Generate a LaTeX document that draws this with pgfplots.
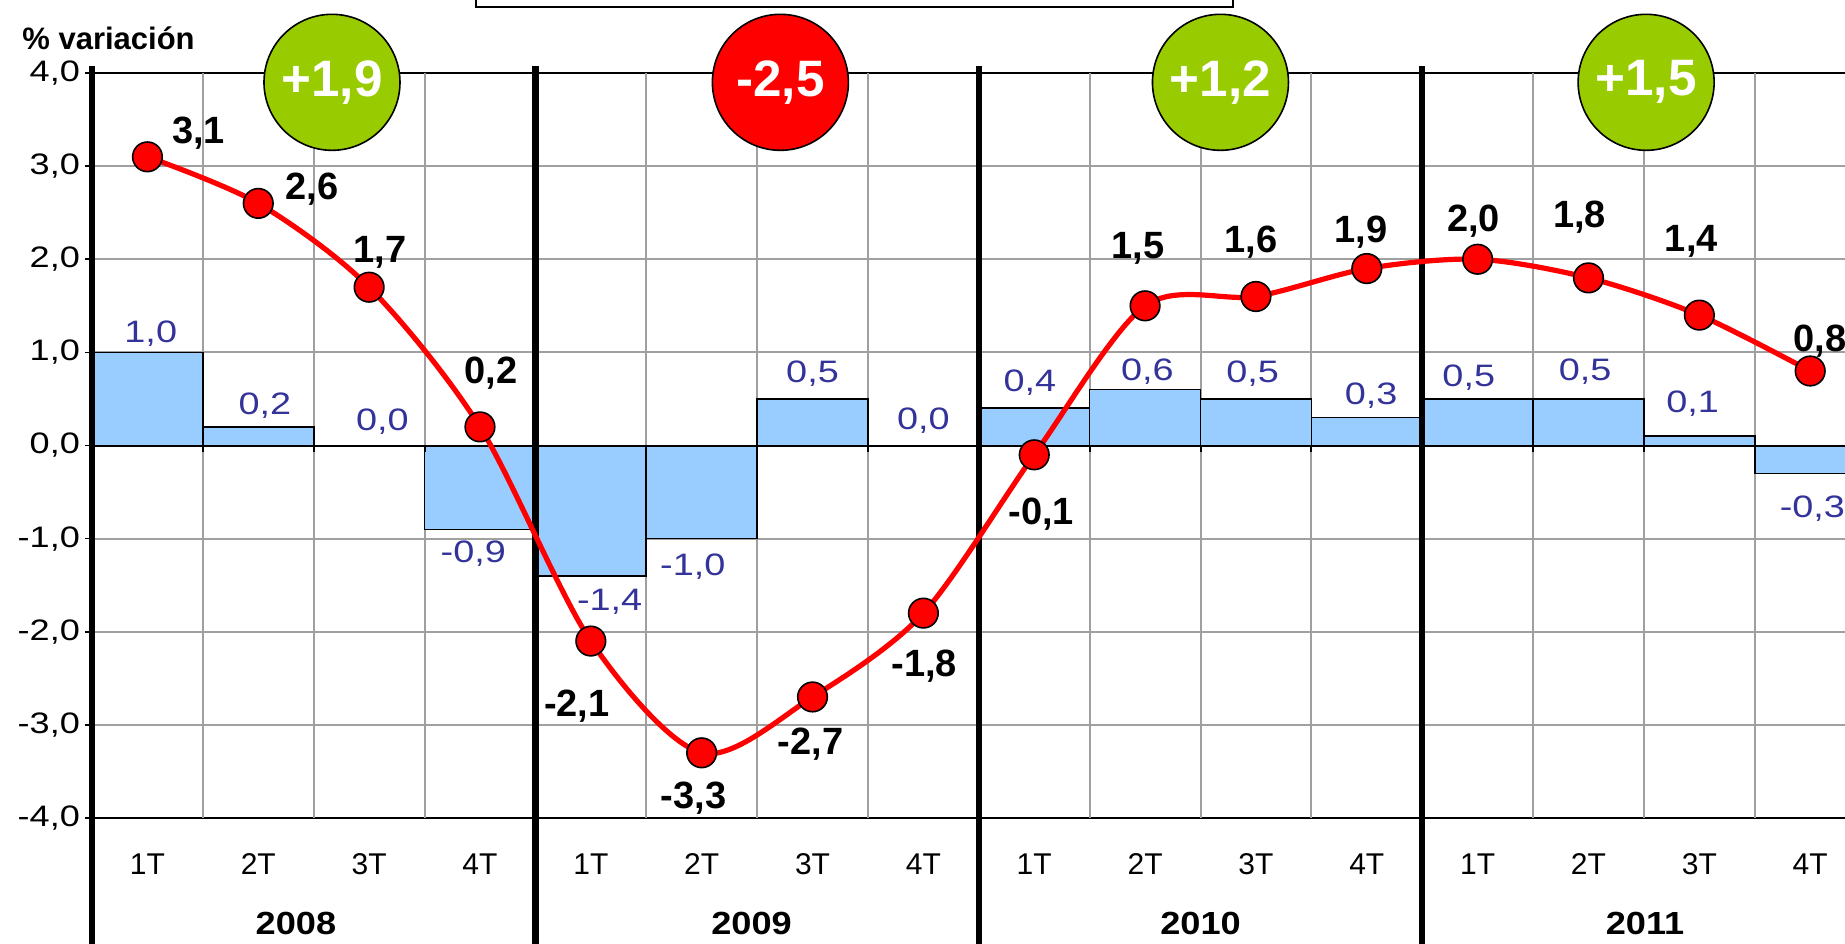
\documentclass[border=0pt]{standalone}
\usepackage{fontspec}
\setmainfont{Liberation Sans}
\newfontfamily\wide{Liberation Sans}[FakeStretch=1.22]
\newfontfamily\semiwide{Liberation Sans}[FakeStretch=1.13]
\usepackage{pgfplots}
\pgfplotsset{compat=1.18}
\definecolor{barblue}{HTML}{99CCFF}
\definecolor{lblblue}{HTML}{333399}
\definecolor{circgreen}{HTML}{99CC00}
\definecolor{gridgray}{HTML}{A0A0A0}
\begin{document}
\begin{tikzpicture}
\begin{axis}[name=ax, scale only axis, width=886.8pt, height=372.5pt,
  xmin=-0.5, xmax=15.5, ymin=-4, ymax=4, clip=false,
  xtick={0,...,15},
  xticklabels={1T,2T,3T,4T,1T,2T,3T,4T,1T,2T,3T,4T,1T,2T,3T,4T},
  xtick style={draw=none},
  extra x ticks={0.5,1.5,...,14.5}, extra x tick labels={},
  extra x tick style={grid=major, tick style={draw=none}},
  ytick={-4,...,4},
  yticklabels={{-4,0},{-3,0},{-2,0},{-1,0},{0,0},{1,0},{2,0},{3,0},{4,0}},
  ymajorgrids,
  major grid style={gridgray, line width=1pt},
  tick align=outside, major tick length=3.5pt,
  ytick style={black, line width=0.8pt},
  yticklabel style={font=\wide\fontsize{14.8}{16}\selectfont, xshift=1pt},
  xticklabel style={font=\fontsize{15}{17}\selectfont, anchor=base, yshift=-24.5pt},
  axis line style={black, line width=1pt},
]
% bars
\addplot[ybar, bar width=1, fill=barblue, draw=black, line width=0.8pt] coordinates {
(0,1.0) (1,0.2) (2,0.0) (3,-0.9) (4,-1.4) (5,-1.0) (6,0.5) (7,0.0)
(8,0.4) (9,0.6) (10,0.5) (11,0.3) (12,0.5) (13,0.5) (14,0.1) (15,-0.3)};
% zero line
\draw[black, line width=1pt] (axis cs:-0.5,0) -- (axis cs:15.5,0);
\pgfplotsinvokeforeach{0.5,1.5,...,14.5}{\draw[black, line width=1pt] (axis cs:#1,0) -- ([yshift=-3pt]axis cs:#1,0);}
% thick year separators
\pgfplotsinvokeforeach{-0.5,3.5,7.5,11.5}{\draw[black, line width=3.25pt] ([yshift=3.5pt]axis cs:#1,4) -- ([yshift=-70pt]axis cs:#1,-4);}
% top box
\draw[black, line width=1pt, fill=white] (axis cs:2.964,4.709) rectangle (axis cs:9.793,5.4);
% line
\addplot[red, line width=2.6pt, smooth, tension=0.5, mark=*, mark size=7.4pt,
  mark options={fill=red, draw=black, line width=0.8pt, solid}] coordinates {
(0,3.1) (1,2.6) (2,1.7) (3,0.2) (4,-2.1) (5,-3.3) (6,-2.7) (7,-1.8)
(8,-0.1) (9,1.5) (10,1.6) (11,1.9) (12,2.0) (13,1.8) (14,1.4) (15,0.8)};
% circles
\tikzset{circ/.style={circle, draw=black, line width=0.8pt, minimum size=68pt, inner sep=0pt, text=white, font=\bfseries\fontsize{25.6}{28}\selectfont}}
\node[circ, fill=circgreen] at (axis cs:1.665,3.9) {+1,9};
\node[circ, fill=red] at (axis cs:5.71,3.9) {-2,5};
\node[circ, fill=circgreen] at (axis cs:9.68,3.9) {+1,2};
\node[circ, fill=circgreen] at (axis cs:13.52,3.9) {+1,5};
% data labels (line)
\tikzset{dl/.style={font=\bfseries\fontsize{19}{21}\selectfont, inner sep=0pt}}
\node[dl, xshift=25.5pt, yshift=12pt] at (axis cs:0,3.1) {3,1};
\node[dl, xshift=27pt, yshift=7pt] at (axis cs:1,2.6) {2,6};
\node[dl, xshift=5.5pt, yshift=17.5pt] at (axis cs:2,1.7) {1,7};
\node[dl, xshift=5.5pt, yshift=27pt] at (axis cs:3,0.2) {0,2};
\node[dl, xshift=-7pt, yshift=-32.5pt] at (axis cs:4,-2.1) {-2,1};
\node[dl, xshift=-4pt, yshift=-22.5pt] at (axis cs:5,-3.3) {-3,3};
\node[dl, xshift=-1pt, yshift=-23.5pt] at (axis cs:6,-2.7) {-2,7};
\node[dl, xshift=0.5pt, yshift=-26.5pt] at (axis cs:7,-1.8) {-1,8};
\node[dl, xshift=3.5pt, yshift=-29.5pt] at (axis cs:8,-0.1) {-0,1};
\node[dl, xshift=-3.5pt, yshift=28.5pt] at (axis cs:9,1.5) {1,5};
\node[dl, xshift=-2.5pt, yshift=27pt] at (axis cs:10,1.6) {1,6};
\node[dl, xshift=-3pt, yshift=18pt] at (axis cs:11,1.9) {1,9};
\node[dl, xshift=-2pt, yshift=19pt] at (axis cs:12,2.0) {2,0};
\node[dl, xshift=-4.5pt, yshift=30.5pt] at (axis cs:13,1.8) {1,8};
\node[dl, xshift=-4pt, yshift=37pt] at (axis cs:14,1.4) {1,4};
\node[dl, xshift=5pt, yshift=15pt] at (axis cs:15,0.8) {0,8};
% bar labels
\tikzset{bl/.style={text=lblblue, font=\wide\fontsize{15.5}{17}\selectfont, inner sep=0pt}}
\node[bl, yshift=9.5pt] at (axis cs:0.03,1.0) {1,0};
\node[bl, yshift=10.5pt] at (axis cs:1.06,0.2) {0,2};
\node[bl, yshift=12pt] at (axis cs:2.12,0.0) {0,0};
\node[bl, yshift=-12pt] at (axis cs:2.94,-0.9) {-0,9};
\node[bl, yshift=-13pt] at (axis cs:4.17,-1.4) {-1,4};
\node[bl, yshift=-14pt] at (axis cs:4.92,-1.0) {-1,0};
\node[bl, yshift=12.5pt] at (axis cs:6.0,0.5) {0,5};
\node[bl, yshift=12.5pt] at (axis cs:7.0,0.0) {0,0};
\node[bl, yshift=13pt] at (axis cs:7.96,0.4) {0,4};
\node[bl, yshift=9pt] at (axis cs:9.02,0.6) {0,6};
\node[bl, yshift=12.5pt] at (axis cs:9.97,0.5) {0,5};
\node[bl, yshift=11pt] at (axis cs:11.04,0.3) {0,3};
\node[bl, yshift=10.5pt] at (axis cs:11.92,0.5) {0,5};
\node[bl, yshift=13.5pt] at (axis cs:12.97,0.5) {0,5};
\node[bl, yshift=16.5pt] at (axis cs:13.94,0.1) {0,1};
\node[bl, yshift=-17.5pt] at (axis cs:15.02,-0.3) {-0,3};
% year labels
\tikzset{yl/.style={anchor=base, font=\semiwide\bfseries\fontsize{16}{18}\selectfont}}
\node[yl, yshift=-58pt] at (axis cs:1.34,-4) {2008};
\node[yl, yshift=-58pt] at (axis cs:5.45,-4) {2009};
\node[yl, yshift=-58pt] at (axis cs:9.5,-4) {2010};
\node[yl, yshift=-58pt] at (axis cs:13.51,-4) {2011};
% axis title
\node[anchor=base west, inner sep=0pt, font=\bfseries\fontsize{15.5}{18}\selectfont, xshift=-35pt, yshift=12pt] at (rel axis cs:0,1) {\% variación};
\end{axis}
\pgfresetboundingbox
\path[use as bounding box] (ax.south west) ++(-46pt,-62.5pt) rectangle ++(922.5pt,471.5pt);
\end{tikzpicture}
\end{document}
